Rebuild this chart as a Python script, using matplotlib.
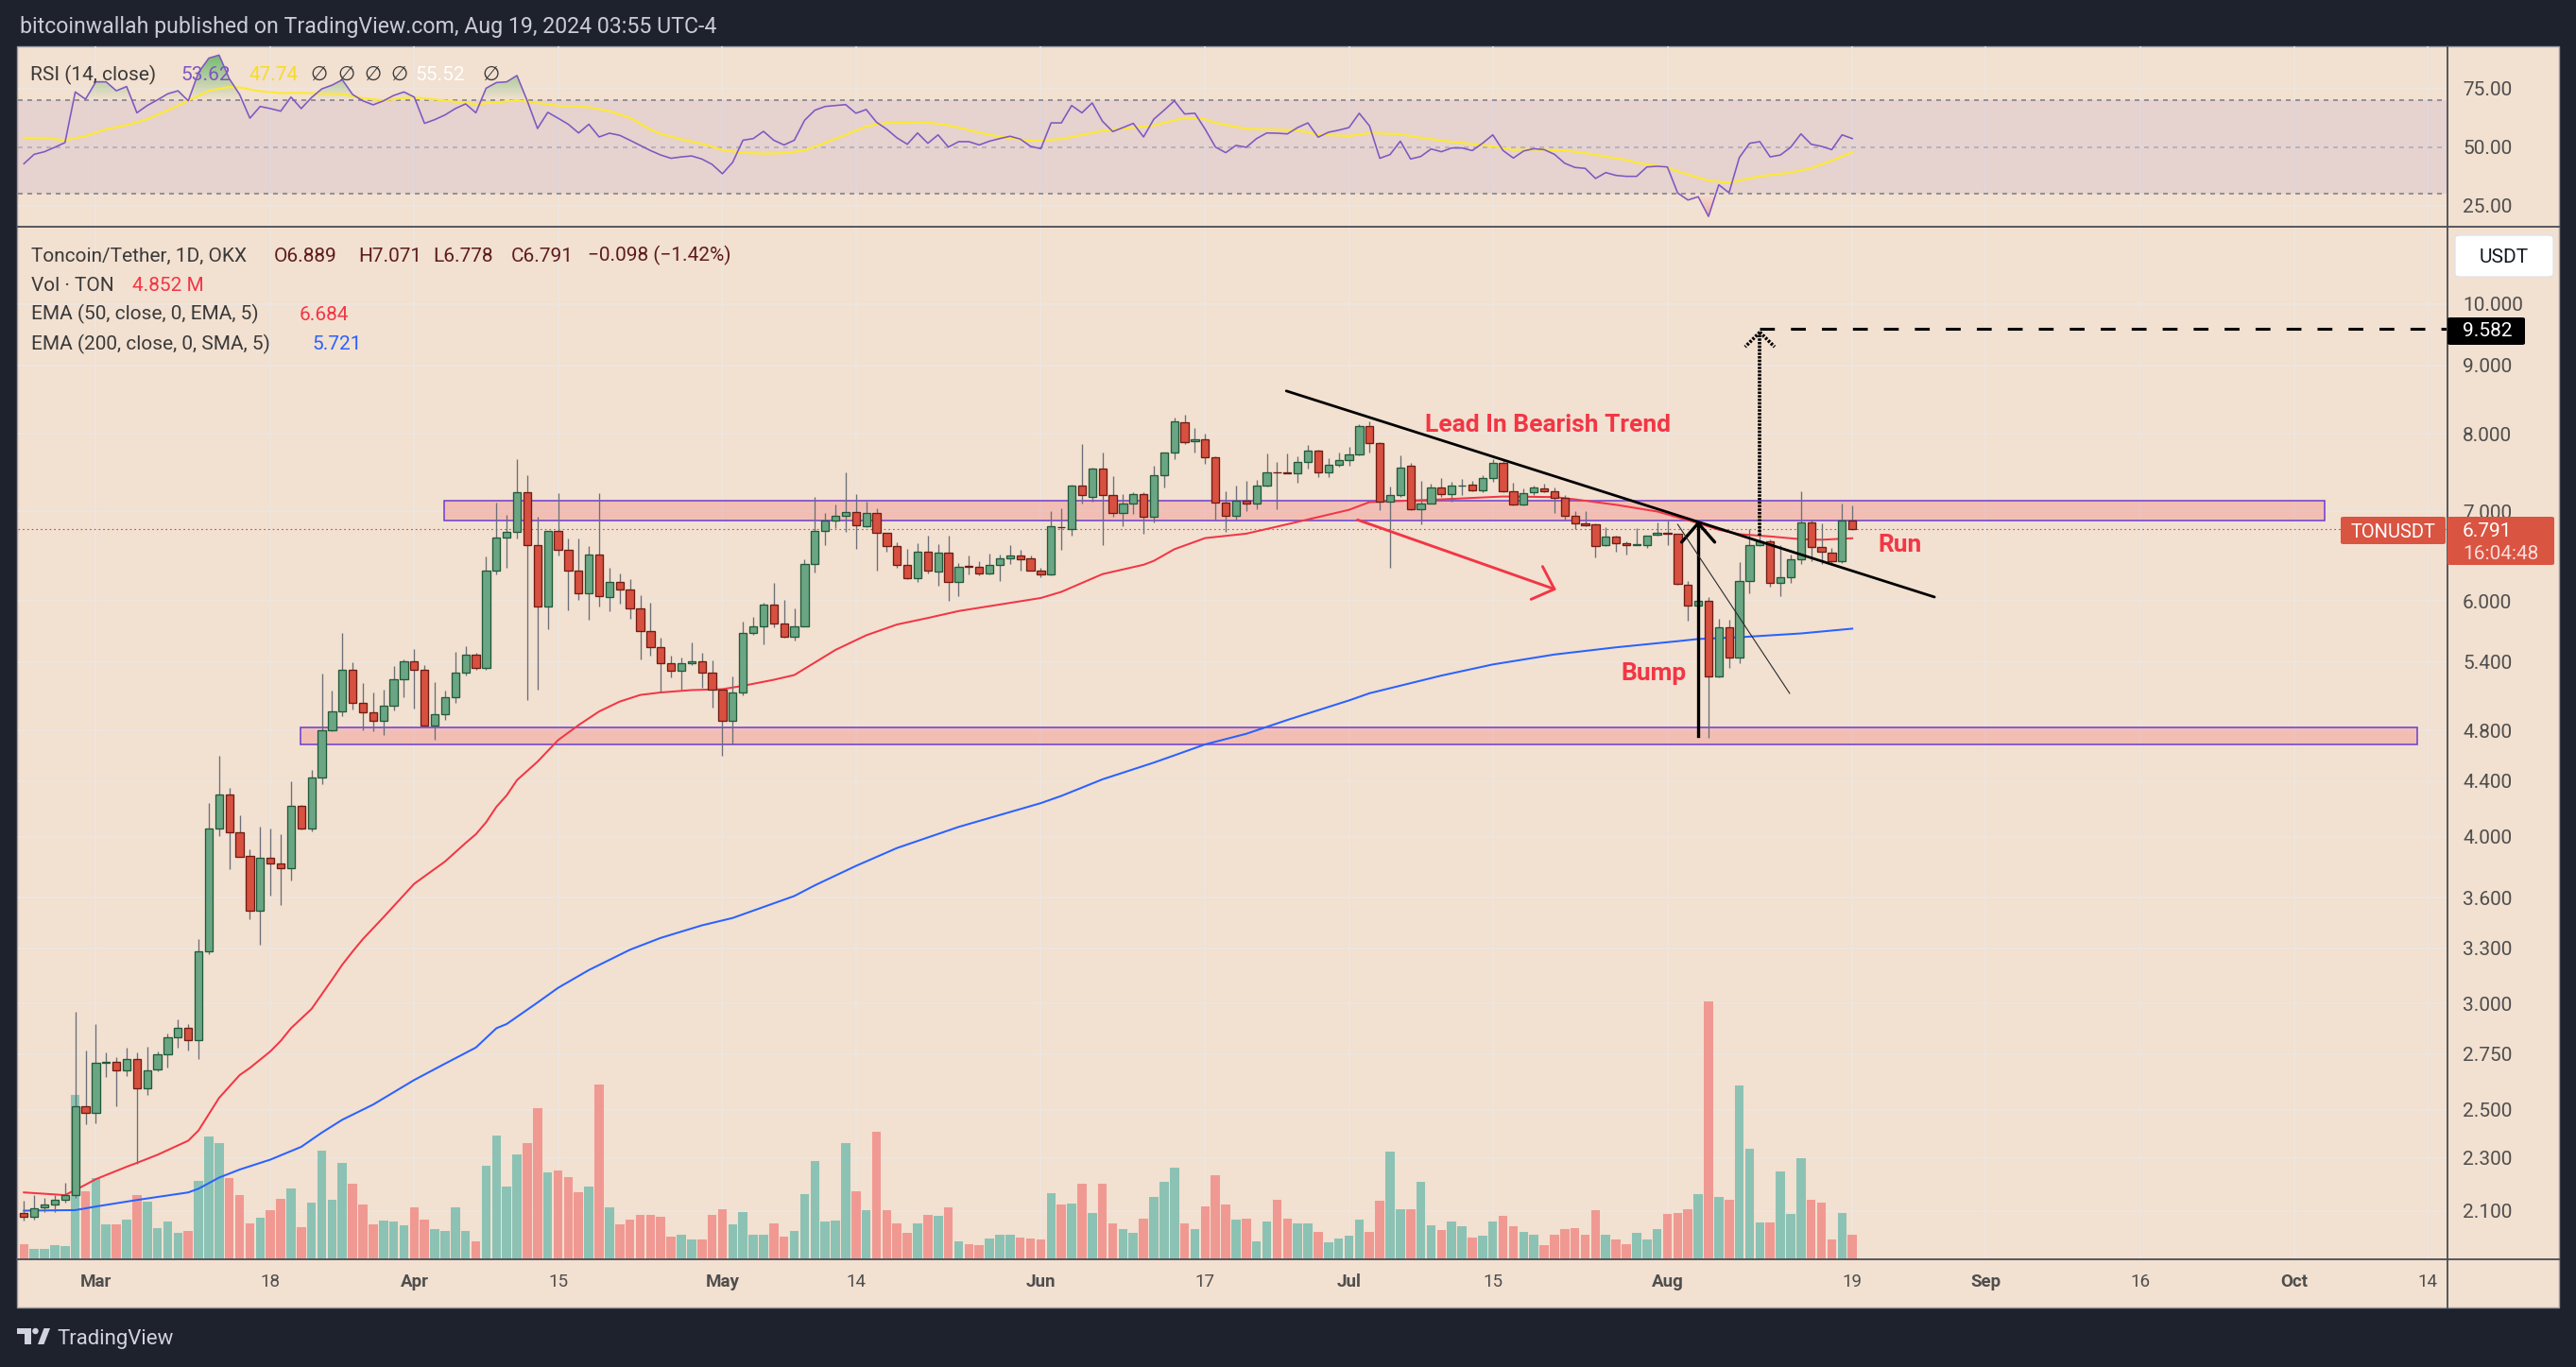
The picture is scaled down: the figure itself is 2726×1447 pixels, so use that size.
import numpy as np
import pandas as pd
import matplotlib
matplotlib.use("Agg")
import matplotlib.pyplot as plt
import matplotlib.dates as mdates
from matplotlib.patches import Rectangle, FancyBboxPatch, Polygon, Ellipse
from matplotlib.lines import Line2D
from matplotlib.colors import LinearSegmentedColormap
from matplotlib.path import Path
from matplotlib.ticker import NullLocator

plt.rcParams['lines.scale_dashes'] = False
plt.rcParams['font.family'] = ['Roboto', 'DejaVu Sans']

# ======================= DATA =======================
dates = pd.date_range('2024-02-23', '2024-08-19', freq='D')

opens = [2.093,2.079,2.113,2.122,2.140,2.158,2.516,2.485,2.709,2.714,
 2.676,2.729,2.595,2.678,2.750,2.830,2.876,2.817,3.284,4.058,
 4.303,4.027,3.872,3.523,3.857,3.821,3.786,4.220,4.058,4.430,
 4.806,4.961,5.327,5.036,4.957,4.883,5.013,5.248,5.412,5.332,
 4.846,4.938,5.088,5.307,5.473,5.347,6.327,6.697,6.759,7.230,
 6.603,5.948,6.766,6.549,6.327,6.077,6.494,6.043,6.198,6.117,
 5.925,5.693,5.546,5.387,5.318,5.387,5.412,5.302,5.155,4.880,
 5.123,5.682,5.741,5.959,5.773,5.640,5.746,6.397,6.766,6.887,
 6.945,6.997,6.829,6.977,6.747,6.597,6.380,6.244,6.536,6.312,
 6.524,6.198,6.374,6.368,6.296,6.386,6.454,6.485,6.454,6.326,
 6.278,6.815,6.795,7.320,7.182,7.532,7.195,6.979,7.093,7.209,
 6.939,7.447,7.751,8.161,7.900,7.923,7.685,7.107,6.946,7.134,
 7.093,7.320,7.489,7.485,7.475,7.619,7.773,7.482,7.590,7.648,
 7.722,8.107,7.878,7.113,7.202,7.568,7.032,7.100,7.292,7.209,
 7.320,7.327,7.257,7.411,7.612,7.250,7.080,7.237,7.285,7.243,
 7.168,6.952,6.860,6.841,6.603,6.699,6.629,6.610,6.610,6.724,
 6.750,6.731,6.165,5.957,5.997,5.267,5.739,5.441,6.206,6.603,
 6.648,6.194,6.254,6.442,6.873,6.585,6.522,6.423,6.889]

highs = [2.136,2.158,2.146,2.158,2.203,2.957,2.770,2.897,2.758,2.737,
 2.781,2.758,2.786,2.763,2.849,2.921,2.897,3.353,4.239,4.597,
 4.352,4.149,3.912,4.069,4.058,4.016,4.400,4.225,4.488,5.292,
 5.141,5.677,5.397,5.208,5.126,5.155,5.362,5.428,5.525,5.377,
 5.218,5.141,5.494,5.551,5.489,6.482,7.109,6.958,7.660,7.449,
 6.939,6.770,7.223,6.684,6.684,6.597,7.223,6.356,6.288,6.232,
 6.060,5.981,5.635,5.459,5.443,5.587,5.489,5.418,5.160,5.269,
 5.789,5.838,5.981,6.192,6.010,5.925,6.445,7.175,6.977,7.089,
 7.483,7.209,7.122,7.043,6.750,6.641,6.567,6.629,6.716,6.616,
 6.716,6.404,6.485,6.423,6.509,6.497,6.603,6.553,6.485,6.356,
 7.006,7.039,7.334,7.863,7.547,7.744,7.440,7.209,7.237,7.237,
 7.576,7.751,8.231,8.271,8.083,8.007,7.700,7.243,7.320,7.376,
 7.390,7.736,7.627,7.729,7.692,7.848,7.780,7.670,7.751,7.818,
 8.130,8.176,7.885,7.306,7.707,7.605,7.376,7.341,7.418,7.369,
 7.404,7.376,7.447,7.656,7.663,7.355,7.285,7.320,7.341,7.292,
 7.202,7.006,7.006,6.854,6.815,6.718,6.654,6.802,6.718,6.873,
 6.886,6.735,6.206,6.177,6.037,5.822,5.811,6.417,6.795,6.834,
 6.667,6.610,6.497,7.250,6.900,6.860,6.572,7.093,7.071]

lows = [2.067,2.069,2.097,2.097,2.132,2.146,2.439,2.444,2.644,2.516,
 2.651,2.276,2.566,2.669,2.686,2.781,2.770,2.727,3.269,4.005,
 3.779,3.860,3.471,3.322,3.611,3.553,3.707,4.050,4.039,4.380,
 4.792,4.924,4.980,4.806,4.792,4.766,4.971,5.088,4.985,4.840,
 4.722,4.892,5.036,5.282,5.332,5.327,6.285,6.356,6.684,5.057,
 5.151,5.714,6.487,5.909,6.010,5.806,5.948,5.897,5.970,5.817,
 5.423,5.459,5.126,5.264,5.151,5.372,5.166,4.995,4.597,4.688,
 5.098,5.656,5.572,5.730,5.635,5.603,5.741,6.300,6.609,6.804,
 6.753,6.567,6.816,6.327,6.536,6.356,6.227,6.204,6.294,6.157,
 5.998,6.054,6.284,6.266,6.284,6.206,6.399,6.320,6.320,6.254,
 6.270,6.547,6.718,7.100,7.113,6.610,6.939,6.828,6.966,6.731,
 6.867,7.299,7.663,7.855,7.744,7.597,6.893,6.763,6.900,6.999,
 7.032,7.310,7.032,7.475,7.355,7.532,7.425,7.425,7.561,7.576,
 7.714,7.744,7.012,6.356,7.182,7.012,6.847,7.095,7.182,7.113,
 7.202,7.250,7.237,7.369,7.237,7.075,7.075,7.195,7.230,6.979,
 6.900,6.795,6.821,6.466,6.598,6.528,6.503,6.605,6.578,6.718,
 6.603,6.165,5.800,5.761,4.742,5.262,5.343,5.389,6.077,6.598,
 6.153,6.048,6.194,6.392,6.429,6.392,6.405,6.405,6.778]

closes = [2.079,2.111,2.122,2.142,2.158,2.516,2.485,2.709,2.714,2.676,
 2.729,2.595,2.676,2.752,2.830,2.876,2.817,3.284,4.058,4.303,
 4.027,3.865,3.523,3.857,3.821,3.786,4.220,4.058,4.430,4.806,
 4.961,5.327,5.036,4.957,4.883,5.013,5.248,5.412,5.332,4.846,
 4.938,5.088,5.307,5.473,5.347,6.327,6.697,6.759,7.230,6.603,
 5.948,6.766,6.549,6.327,6.077,6.494,6.054,6.198,6.117,5.925,
 5.693,5.546,5.387,5.318,5.387,5.412,5.302,5.155,4.880,5.123,
 5.682,5.741,5.959,5.773,5.640,5.746,6.397,6.766,6.887,6.945,
 6.997,6.836,6.977,6.747,6.597,6.380,6.244,6.536,6.318,6.524,
 6.198,6.367,6.368,6.296,6.386,6.454,6.485,6.448,6.326,6.278,
 6.821,6.809,7.320,7.195,7.532,7.195,6.979,7.093,7.209,6.939,
 7.447,7.751,8.169,7.893,7.923,7.685,7.107,6.946,7.134,7.093,
 7.320,7.489,7.485,7.480,7.619,7.773,7.482,7.590,7.648,7.722,
 8.107,7.870,7.113,7.202,7.554,7.032,7.100,7.292,7.216,7.320,
 7.322,7.264,7.411,7.612,7.250,7.080,7.223,7.292,7.243,7.161,
 6.952,6.860,6.834,6.597,6.699,6.622,6.603,6.616,6.718,6.750,
 6.737,6.177,5.957,5.997,5.267,5.739,5.441,6.206,6.603,6.648,
 6.194,6.254,6.442,6.873,6.585,6.528,6.423,6.889,6.791]

volume_m = [2.85,2.11,2.00,2.74,2.53,31.97,13.19,15.72,6.75,6.75,
 7.81,12.45,11.18,6.01,7.28,5.06,5.49,15.19,23.84,22.68,
 15.72,12.45,7.07,8.02,9.50,11.71,13.72,6.33,10.97,21.10,
 11.50,18.67,14.66,10.66,6.75,7.49,7.28,6.54,10.02,7.81,
 5.80,5.49,10.02,5.59,3.48,18.15,24.05,14.14,20.36,22.68,
 29.33,16.88,17.20,15.93,12.98,14.24,33.97,10.02,6.75,7.81,
 8.55,8.55,8.23,4.33,4.85,3.80,3.80,8.55,9.71,6.75,
 9.28,4.75,4.75,7.07,4.33,5.59,12.77,19.20,7.28,7.49,
 22.68,13.19,9.50,24.79,9.50,7.07,5.06,6.96,8.55,8.44,
 10.02,3.48,3.02,2.70,3.99,4.75,4.85,4.31,4.10,3.77,
 12.83,10.57,10.79,14.78,9.06,14.67,6.90,5.93,5.07,7.87,
 12.08,14.99,17.90,6.90,5.82,10.35,16.29,10.57,7.66,7.87,
 3.56,7.44,11.54,7.98,6.90,6.90,5.39,3.24,3.99,4.53,
 7.66,5.28,11.32,21.03,9.71,9.71,14.99,6.69,5.61,7.44,
 6.47,4.21,4.53,7.44,8.41,6.36,5.39,4.75,2.80,4.85,
 5.82,6.15,4.85,9.49,4.75,3.77,3.02,5.18,3.77,5.82,
 8.74,9.06,9.71,12.62,50.15,12.19,11.54,33.76,21.57,7.12,
 7.23,17.04,8.74,19.63,11.65,11.11,3.77,8.95,4.852]

rsi = [42.9,46.9,48.0,49.9,51.9,73.5,70.4,77.8,77.8,74.0,
 75.8,64.6,67.7,70.1,72.7,74.0,69.7,81.8,87.9,89.2,
 79.1,72.4,62.3,67.3,66.4,65.3,71.3,66.4,71.1,74.8,
 76.4,78.7,72.4,69.7,68.0,69.7,72.0,73.5,71.3,60.1,
 61.7,63.7,66.4,68.4,64.6,75.1,77.5,77.8,80.5,69.7,
 57.9,64.8,62.3,59.7,56.0,59.7,54.3,55.9,55.0,52.9,
 50.7,48.5,46.6,45.2,45.8,46.2,44.9,42.6,38.6,43.5,
 52.9,53.6,56.7,52.9,50.9,52.9,61.4,65.7,67.3,67.7,
 68.1,64.4,66.0,60.6,57.6,53.9,51.2,56.0,51.6,55.2,
 50.0,52.3,52.3,50.9,52.5,53.6,54.6,53.4,50.3,49.3,
 60.3,60.3,67.7,64.6,68.8,61.0,56.6,58.3,60.1,54.3,
 61.9,65.7,69.7,64.1,64.4,57.6,50.0,47.6,50.7,49.9,
 53.6,56.0,55.9,55.6,58.3,60.3,54.2,56.3,57.2,58.3,
 64.4,59.0,45.2,46.8,52.5,44.9,46.0,49.2,48.0,49.6,
 49.6,48.5,51.6,55.2,48.5,45.3,48.3,49.3,48.9,46.9,
 43.1,41.3,40.9,36.6,39.1,37.9,37.5,37.5,41.5,41.8,
 41.5,30.4,27.4,28.8,20.4,33.9,30.5,45.5,51.6,52.3,
 45.8,46.6,49.9,55.6,51.2,50.3,48.9,55.2,53.62]

rsi_ma_idx = [0,2,4,6,8,10,12,14,16,18,20,21,23,25,27,29,31,33,35,37,
 38,40,42,44,46,48,50,52,55,57,59,61,62,64,66,68,70,72,74,76,
 78,80,82,84,86,88,90,91,94,96,98,101,103,105,106,109,110,112,113,115,
 116,119,122,124,126,129,131,134,136,139,142,144,145,147,150,152,156,157,160,161,
 164,166,169,172,174,176,178]
rsi_ma = [53.9,53.9,52.9,54.7,57.6,59.3,61.8,65.7,69.8,74.0,75.6,75.4,73.8,73.0,73.1,72.8,72.6,70.8,69.9,70.9,
 71.1,70.3,69.3,68.3,69.0,70.0,68.8,67.6,67.0,65.3,62.5,57.5,55.6,53.3,51.4,48.8,47.5,47.2,47.4,48.6,
 51.8,55.2,58.8,60.3,60.3,60.4,59.3,58.3,55.2,53.8,52.6,53.4,55.2,56.9,57.4,58.7,59.2,61.4,62.5,61.8,
 60.3,57.8,57.4,57.2,55.3,54.7,56.0,55.5,54.0,52.2,50.9,49.6,48.8,48.9,48.6,47.4,44.5,43.3,41.3,39.6,
 35.7,34.8,37.5,39.1,41.0,44.2,47.74]

ema50_idx = [0,4,6,7,10,11,13,16,17,19,21,22,24,25,26,28,30,31,32,33,
 35,38,41,43,44,45,46,47,48,50,52,54,56,58,60,62,65,68,70,73,
 75,77,79,82,85,88,91,99,101,103,105,109,110,112,115,119,123,129,131,134,
 138,144,149,151,155,159,163,165,167,170,173,175,178]
ema50 = [2.168,2.158,2.197,2.218,2.266,2.281,2.313,2.370,2.412,2.551,2.653,2.686,2.764,2.814,2.876,2.973,3.127,3.209,3.282,3.353,
 3.481,3.688,3.832,3.956,4.016,4.100,4.210,4.294,4.408,4.550,4.722,4.846,4.961,5.046,5.104,5.126,5.147,5.155,5.185,5.239,
 5.282,5.397,5.515,5.656,5.762,5.827,5.897,6.031,6.095,6.189,6.284,6.386,6.429,6.559,6.686,6.737,6.847,7.019,7.113,7.127,
 7.147,7.182,7.175,7.147,7.080,6.999,6.860,6.782,6.731,6.705,6.673,6.667,6.684]

ema200_idx = [0,5,7,11,16,17,19,21,24,27,29,31,34,38,41,44,46,47,50,52,
 55,59,62,66,69,75,77,81,85,91,99,101,105,110,112,115,119,123,129,131,
 138,143,149,155,161,163,167,173,178]
ema200 = [2.101,2.103,2.116,2.140,2.168,2.182,2.224,2.255,2.294,2.345,2.403,2.457,2.522,2.631,2.706,2.782,2.876,2.897,3.006,3.083,
 3.179,3.292,3.360,3.433,3.477,3.611,3.678,3.803,3.922,4.067,4.237,4.290,4.414,4.543,4.600,4.688,4.774,4.889,5.056,5.119,
 5.277,5.379,5.472,5.540,5.599,5.620,5.637,5.674,5.721]

tick_dates = ['2024-03-01','2024-03-18','2024-04-01','2024-04-15','2024-05-01','2024-05-14',
              '2024-06-01','2024-06-17','2024-07-01','2024-07-15','2024-08-01','2024-08-19',
              '2024-09-01','2024-09-16','2024-10-01','2024-10-14']
tick_labels = ['Mar','18','Apr','15','May','14','Jun','17','Jul','15','Aug','19','Sep','16','Oct','14']
price_ticks = [10.0,9.0,8.0,7.0,6.0,5.4,4.8,4.4,4.0,3.6,3.3,3.0,2.75,2.5,2.3,2.1]
price_tick_labels = ['10.000','9.000','8.000','7.000','6.000','5.400','4.800','4.400','4.000',
                     '3.600','3.300','3.000','2.750','2.500','2.300','2.100']
rsi_ticks = [25, 50, 75]
rsi_tick_labels = ['25.00', '50.00', '75.00']

# drawings (x in days after first candle, y in price)
zones = [(40.9, 224.0, 6.888, 7.127), (26.96, 233.0, 4.685, 4.830)]
trend_line = [(122.9, 8.613), (186.0, 6.041)]
red_arrow = [(129.84, 6.899), (149.0, 6.124)]
bump_arrow = [(163.0, 4.756), (163.0, 6.860)]
thin_line = [(161.0, 6.846), (171.9, 5.118)]
target_dotted = [(169.0, 6.717), (169.0, 9.53)]
target_price = 9.582
last_price = 6.791
labels_red = [("Lead In Bearish Trend", 136.4, 8.029), ("Bump", 155.5, 5.237), ("Run", 180.5, 6.526)]

# ======================= LAYOUT =======================
W, H, DPI = 2726, 1447, 100
BG_DARK = '#1E222D'
BG = '#F2E0D0'
GRID = '#EDE6E1'
TXT = '#3A3A3A'
AXT = '#4E4E4E'
RED = '#F23645'
UPC, UPE = '#6AA684', '#215A3A'
DNC, DNE = '#D75040', '#6E1D14'
VUP, VDN = '#8CC2B4', '#F09992'

fig = plt.figure(figsize=(W / DPI, H / DPI), dpi=DPI)
fig.patch.set_facecolor(BG_DARK)

def F(x, y):
    return (x / W, 1 - y / H)

def rect(l, t, r, b):
    return [l / W, 1 - b / H, (r - l) / W, (b - t) / H]

PAN_L, PAN_T, PAN_R, PAN_B = 17.5, 49, 2708, 1384
PL, PR = 18.5, 2589.5
RSI_T, RSI_B, PR_B = 49, 240, 1333
SLOT, X0PX = 10.87, 25.3

fig.add_artist(Rectangle(F(PAN_L, PAN_B), (PAN_R - PAN_L) / W, (PAN_B - PAN_T) / H,
                         transform=fig.transFigure, facecolor=BG, edgecolor='#9A9CA3',
                         lw=1.0, zorder=-5))

x0 = mdates.date2num(dates[0])
xs = x0 + np.arange(len(dates))
xlim = (x0 - (X0PX - PL) / SLOT, x0 + (PR - X0PX) / SLOT)
plim = (1.9323, 11.426)
rlim = (16.02, 92.96)
vlim = (0, 200.9)
tick_x = mdates.date2num(pd.to_datetime(tick_dates))

axg = fig.add_axes(rect(PL, RSI_B, PR, PR_B))
axv = fig.add_axes(rect(PL, RSI_B, PR, PR_B))
ax = fig.add_axes(rect(PL, RSI_B, PR, PR_B))
axr = fig.add_axes(rect(PL, RSI_T, PR, RSI_B))
for a in (axg, axv, ax, axr):
    a.set_facecolor('none')
    for s in a.spines.values():
        s.set_visible(False)
    a.set_xlim(*xlim)

# grid axes
axg.set_yscale('log')
axg.set_ylim(*plim)
axg.set_yticks(price_ticks)
axg.yaxis.set_minor_locator(NullLocator())
axg.set_xticks(tick_x)
axg.tick_params(length=0, labelleft=False, labelbottom=False)
axg.grid(True, color=GRID, lw=1.1)

# volume
opens_a, highs_a, lows_a, closes_a = map(np.array, (opens, highs, lows, closes))
up = closes_a >= opens_a
axv.bar(xs, volume_m, width=0.88, color=np.where(up, VUP, VDN), lw=0)
axv.set_ylim(*vlim)
axv.set_xticks([])
axv.set_yticks([])

# price axes
ax.set_yscale('log')
ax.set_ylim(*plim)
ax.yaxis.tick_right()
ax.set_yticks(price_ticks, price_tick_labels)
ax.yaxis.set_minor_locator(NullLocator())
ax.set_xticks(tick_x, tick_labels)
ax.tick_params(axis='y', length=0, pad=11.9, labelsize=15, labelcolor=AXT)
ax.tick_params(axis='x', length=0, pad=10.5, labelsize=13.5, labelcolor=AXT)
for lab in ax.get_xticklabels():
    if lab.get_text().isalpha():
        lab.set_fontweight('bold')

for (xa, xb, pa, pb) in zones:
    ax.add_patch(Rectangle((x0 + xa, pa), xb - xa, pb - pa, facecolor=(0.949, 0.212, 0.271, 0.2),
                           edgecolor='#6A3DD1', lw=1.1, zorder=1.5))

ax.axhline(last_price, color=RED, lw=0.8, ls=(0, (1.2, 2.2)), zorder=2)
ax.plot(x0 + np.array(ema50_idx), ema50, color=RED, lw=1.45, zorder=2.5)
ax.plot(x0 + np.array(ema200_idx), ema200, color='#2962FF', lw=1.45, zorder=2.5)

ax.vlines(xs, lows_a, highs_a, colors='#6B6E78', lw=0.95, zorder=3)
blo = np.minimum(opens_a, closes_a)
bhi = np.maximum(opens_a, closes_a)
ax.bar(xs, bhi - blo, bottom=blo, width=0.76, color=np.where(up, UPC, DNC),
       edgecolor=np.where(up, UPE, DNE), linewidth=0.95, zorder=4)

ax.set_xlim(*xlim)
ax.set_ylim(*plim)


def chevron(axis, tip, tail, arm_px, ang_deg, **kw):
    T = axis.transData
    tp = T.transform(tip)
    tl = T.transform(tail)
    u = (tl - tp) / np.hypot(*(tl - tp))
    for s in (1, -1):
        a = np.deg2rad(ang_deg * s)
        v = np.array([u[0] * np.cos(a) - u[1] * np.sin(a), u[0] * np.sin(a) + u[1] * np.cos(a)])
        end = T.inverted().transform(tp + arm_px * v)
        axis.plot([tip[0], end[0]], [tip[1], end[1]], **kw)

# trend line
ax.plot([x0 + p[0] for p in trend_line], [p[1] for p in trend_line], color='black', lw=2.0,
        solid_capstyle='round', zorder=6)
# red arrow
ra = [(x0 + p[0], p[1]) for p in red_arrow]
ax.plot([ra[0][0], ra[1][0]], [ra[0][1], ra[1][1]], color=RED, lw=2.1, zorder=6, solid_capstyle='round')
chevron(ax, ra[1], ra[0], 27, 43, color=RED, lw=2.1, zorder=6, solid_capstyle='round')
# bump arrow
ba = [(x0 + p[0], p[1]) for p in bump_arrow]
ax.plot([ba[0][0], ba[1][0]], [ba[0][1], ba[1][1]], color='black', lw=2.4, zorder=6)
chevron(ax, ba[1], ba[0], 26.6, 41, color='black', lw=2.4, zorder=6, solid_capstyle='round')
# thin line
ax.plot([x0 + p[0] for p in thin_line], [p[1] for p in thin_line], color='#2A2A2A', lw=0.8, zorder=6)
# target dotted + dashed
td = [(x0 + p[0], p[1]) for p in target_dotted]
ax.plot([td[0][0], td[1][0]], [td[0][1], td[1][1]], color='black', lw=2.6,
        ls=(0, (1.8, 0.9)), dash_capstyle='butt', zorder=6)
chevron(ax, td[1], td[0], 22, 45, color='black', lw=2.6, ls=(0, (1.8, 1.2)), zorder=6)
ax.plot([td[0][0], xlim[1]], [target_price, target_price], color='black', lw=2.2,
        ls=(0, (11.3, 12.3)), zorder=6)

for (txt, xd, yp) in labels_red:
    ax.text(x0 + xd, yp, txt, color=RED, fontsize=19, fontweight='bold', va='baseline', ha='left', zorder=7)

# RSI axes
axr.set_ylim(*rlim)
axr.yaxis.tick_right()
axr.set_yticks(rsi_ticks, rsi_tick_labels)
axr.set_xticks(tick_x)
axr.tick_params(axis='y', length=0, pad=11.9, labelsize=15, labelcolor=AXT)
axr.tick_params(axis='x', length=0, labelbottom=False)
axr.grid(True, color=GRID, lw=1.1)
axr.set_axisbelow(True)
axr.axhspan(30, 70, color='#7E57C2', alpha=0.10, lw=0, zorder=1)
axr.axhline(70, color='#787B86', lw=1.1, ls=(0, (3.6, 3.6)), zorder=1.5)
axr.axhline(30, color='#787B86', lw=1.1, ls=(0, (3.6, 3.6)), zorder=1.5)
axr.axhline(50, color='#787B86', lw=1.1, ls=(0, (3.6, 3.6)), alpha=0.5, zorder=1.5)

rsi_a = np.array(rsi)
def grad_fill(lo, hi, where, rgb, a_lo, a_hi, ext):
    fb = axr.fill_between(xs, lo, hi, where=where, interpolate=True, facecolor='none', edgecolor='none')
    paths = fb.get_paths()
    if not paths:
        return
    cp = Path.make_compound_path(*paths)
    cmap = LinearSegmentedColormap.from_list('g', [(*rgb, a_lo), (*rgb, a_hi)])
    im = axr.imshow(np.linspace(0, 1, 256).reshape(-1, 1), cmap=cmap, origin='lower',
                    extent=[xlim[0], xlim[1], ext[0], ext[1]], aspect='auto', zorder=2,
                    interpolation='bilinear')
    im.set_clip_path(cp, transform=axr.transData)

grad_fill(70, rsi_a, rsi_a > 70, (0.30, 0.69, 0.31), 0.0, 0.9, (70, 92.96))
grad_fill(rsi_a, 30, rsi_a < 30, (0.95, 0.21, 0.27), 0.45, 0.0, (16.02, 30))

axr.plot(x0 + np.array(rsi_ma_idx), rsi_ma, color='#FDE83A', lw=1.6, zorder=3)
axr.plot(xs, rsi_a, color='#7E57C2', lw=1.15, zorder=4)
axr.set_xlim(*xlim)
axr.set_ylim(*rlim)

# separators
SEP = '#4A4C55'
fig.add_artist(Line2D([PAN_L / W, PAN_R / W], [1 - RSI_B / H] * 2, transform=fig.transFigure, color=SEP, lw=1.3))
fig.add_artist(Line2D([PAN_L / W, PAN_R / W], [1 - PR_B / H] * 2, transform=fig.transFigure, color=SEP, lw=1.3))
fig.add_artist(Line2D([PR / W] * 2, [1 - PAN_T / H, 1 - PAN_B / H], transform=fig.transFigure, color=SEP, lw=1.3))

# axis boxes (drawn under their texts)
def box(l, t, r, b, fc, ec='none', rs=4):
    fig.add_artist(FancyBboxPatch(F(l, b), (r - l) / W, (b - t) / H,
                                  boxstyle=f"round,pad=0,rounding_size={rs / W}",
                                  transform=fig.transFigure, facecolor=fc, edgecolor=ec, lw=1, zorder=2))

def ftext(x, y, s, **kw):
    kw.setdefault('va', 'baseline')
    kw.setdefault('zorder', 8)
    return fig.text(*F(x, y), s, **kw)

box(2598, 249, 2702, 293, 'white', '#E0E3EB', rs=6)
ftext(2650, 278.5, 'USDT', color='#131722', fontsize=15, ha='center')
box(2590, 336, 2672, 365, 'black', rs=3)
ftext(2606, 355.5, f'{target_price:.3f}', color='white', fontsize=15)
box(2477, 547, 2588, 576, '#DA5442', rs=3)
ftext(2532.5, 568.6, 'TONUSDT', color='white', fontsize=14.5, ha='center')
box(2590, 547, 2703, 598, '#DA5442', rs=3)
ftext(2606, 568.2, f'{last_price:.3f}', color='white', fontsize=15)
ftext(2606, 591.5, '16:04:48', color=(1, 1, 1, 0.8), fontsize=15)

# header texts
title = ftext(21, 35, 'bitcoinwallah published on TradingView.com, Aug 19, 2024 03:55 UTC-4',
              color='#C9CCD4', fontsize=14.5)
fig.canvas.draw()
tw = title.get_window_extent(fig.canvas.get_renderer()).width
title.set_fontsize(14.5 * 734.0 / tw)

fs = 15
ftext(32, 85, 'RSI (14, close)', color=TXT, fontsize=fs)
ftext(191, 85, '53.62', color='#7E57C2', fontsize=fs)
ftext(263, 85, '47.74', color='#F5DC2A', fontsize=fs)
for xx in (328, 357, 385, 413, 510):
    ftext(xx, 85, '\u2205', color=TXT, fontsize=fs)
ftext(439, 85, '55.52', color='white', fontsize=fs)

ftext(33, 276.7, 'Toncoin/Tether, 1D, OKX', color=TXT, fontsize=fs)
ohlc = [('O6.889', 290), ('H7.071', 379), ('L6.778', 458), ('C6.791', 541), ('\u22120.098 (\u22121.42%)', 622)]
for t, xx in ohlc:
    ftext(xx, 276.7, t, color='#5E1C1C', fontsize=fs)
ftext(33, 307.7, 'Vol \u00b7 TON', color=TXT, fontsize=fs)
ftext(140, 307.7, '4.852 M', color=RED, fontsize=fs)
ftext(33, 338.7, 'EMA (50, close, 0, EMA, 5)', color=TXT, fontsize=fs)
ftext(317, 338.7, '6.684', color=RED, fontsize=fs)
ftext(33, 370, 'EMA (200, close, 0, SMA, 5)', color=TXT, fontsize=fs)
ftext(330, 370, '5.721', color='#2962FF', fontsize=fs)

# TradingView logo
LOGO = '#D1D4DC'
fig.add_artist(Rectangle(F(18, 1411.5), 15 / W, 5.5 / H, transform=fig.transFigure, fc=LOGO, ec='none'))
fig.add_artist(Rectangle(F(25.5, 1423), 7.5 / W, 17 / H, transform=fig.transFigure, fc=LOGO, ec='none'))
fig.add_artist(Ellipse(F(37.5, 1409), 6.5 / W, 6.5 / H, transform=fig.transFigure, fc=LOGO, ec='none'))
fig.add_artist(Polygon([F(40, 1423), F(46.5, 1423), F(53, 1406), F(46.5, 1406)], closed=True,
                       transform=fig.transFigure, fc=LOGO, ec='none'))
ftext(60, 1423, 'TradingView', color=LOGO, fontsize=16)

fig.savefig('out.png', dpi=DPI, facecolor=fig.get_facecolor())
